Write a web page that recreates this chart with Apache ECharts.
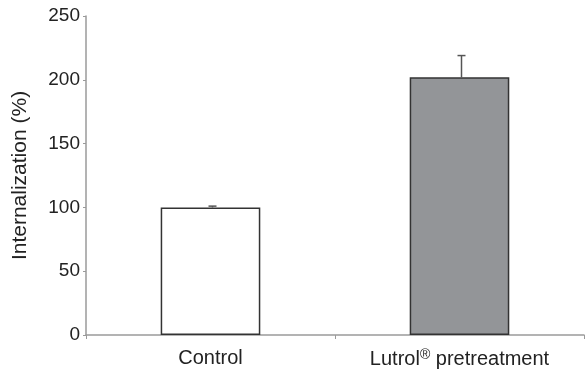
<!DOCTYPE html>
<html><head><meta charset="utf-8">
<script src="https://cdn.jsdelivr.net/npm/echarts@6/dist/echarts.min.js"></script>
<style>html,body{margin:0;padding:0;background:#fff}#c{width:585px;height:373px}</style>
</head><body><div id="c"></div>
<script>
var categories = ['Control', 'Lutrol pretreatment'];
var values = [100, 202];
var errors = [1, 17];
var yTicks = [0, 50, 100, 150, 200, 250];
var barColors = ['#ffffff', '#939598'];

var chart = echarts.init(document.getElementById('c'));
var font = 'Liberation Sans, Arial, Helvetica, sans-serif';
chart.setOption({
  animation: false,
  grid: {left: 86, right: 1, top: 16, bottom: 38},
  xAxis: {
    type: 'category', data: categories,
    axisLine: {lineStyle: {color: '#9a9a9a', width: 1.5}},
    axisTick: {show: true, length: 4, lineStyle: {color: '#9a9a9a'}},
    axisLabel: {
      interval: 0, margin: 13, color: '#222', fontSize: 20, fontFamily: font,
      formatter: function (v) { return v === 'Control' ? v : '{a|Lutrol}{s|®}{a| pretreatment}'; },
      rich: {a: {fontSize: 20, fontFamily: font, color: '#222'}, s: {fontSize: 14, fontFamily: font, color: '#222', padding: [0, 0, 9, 0]}}
    }
  },
  yAxis: {
    type: 'value', min: 0, max: 250, interval: 50,
    name: 'Internalization (%)', nameLocation: 'middle', nameGap: 55,
    nameTextStyle: {fontSize: 21, color: '#222', fontFamily: font},
    axisLine: {show: true, lineStyle: {color: '#9a9a9a', width: 1.5}},
    axisTick: {show: true, length: 3, lineStyle: {color: '#9a9a9a'}},
    splitLine: {show: false},
    axisLabel: {margin: 6, color: '#222', fontSize: 19, fontFamily: font,
      formatter: function (v) { return yTicks.indexOf(v) >= 0 ? String(v) : ''; }}
  },
  series: [{
    type: 'bar', barWidth: '40%',
    data: values.map(function (v, i) {
      return {value: v, itemStyle: {color: barColors[i], borderColor: '#333', borderWidth: 1.5}};
    }),
    z: 2
  }, {
    type: 'custom',
    z: 1,
    data: values.map(function (v, i) { return [i, v, v + errors[i]]; }),
    renderItem: function (params, api) {
      var b = api.coord([api.value(0), api.value(1)]);
      var t = api.coord([api.value(0), api.value(2)]);
      var x = b[0] + 2;
      return {type: 'group', children: [
        {type: 'line', shape: {x1: x, y1: b[1], x2: x, y2: t[1]}, style: {stroke: '#555', lineWidth: 1.5}},
        {type: 'line', shape: {x1: x - 4, y1: t[1], x2: x + 4, y2: t[1]}, style: {stroke: '#555', lineWidth: 1.5}}
      ]};
    }
  }]
});
</script></body></html>
